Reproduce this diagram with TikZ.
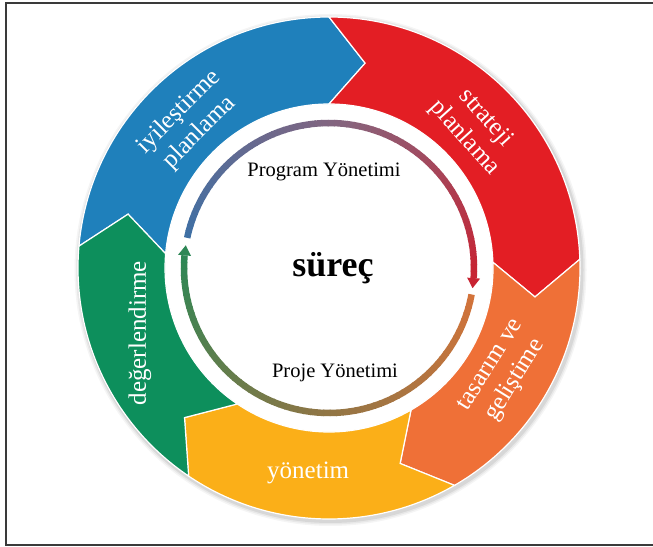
\documentclass[tikz,border=0pt]{standalone}
\usepackage{fontspec}
\setmainfont{Liberation Serif}

% segment colours
\definecolor{segblue}{RGB}{31,128,187}
\definecolor{segred}{RGB}{227,30,36}
\definecolor{segorange}{RGB}{239,112,55}
\definecolor{segyellow}{RGB}{251,175,24}
\definecolor{seggreen}{RGB}{13,143,92}
% inner cycle colours
\definecolor{topA}{RGB}{62,112,165}
\definecolor{topB}{RGB}{135,100,125}
\definecolor{topC}{RGB}{200,35,50}
\definecolor{botA}{RGB}{212,115,58}
\definecolor{botB}{RGB}{140,118,70}
\definecolor{botC}{RGB}{45,135,85}
\definecolor{framegray}{RGB}{58,58,58}

% ring geometry (pt = px)
\newcommand\Rout{251}
\newcommand\Rin{164}
\newcommand\Rmid{208}
\newcommand\tipd{10}
\newcommand\Rcyc{145}

% one chevron-shaped ring segment: start angle, end angle, colour
\newcommand\ringseg[3]{%
  \fill[#3, draw=white, line width=1.2]
    (#1:\Rout) arc[start angle=#1, end angle=#2, radius=\Rout]
    -- (#2-\tipd:\Rmid) -- (#2:\Rin)
    arc[start angle=#2, end angle=#1, radius=\Rin]
    -- (#1-\tipd:\Rmid) -- cycle;}

% arc whose colour blends from #3 to #4 in #5 steps
\newcommand\gradarc[5]{%
  \foreach \k in {1,...,#5}{%
    \pgfmathsetmacro\sa{#1+(#2-#1)*(\k-1)/#5}%
    \pgfmathsetmacro\ea{#1+(#2-#1)*\k/#5-0.4}%
    \pgfmathtruncatemacro\pc{100-100*(\k-0.5)/#5}%
    \draw[line width=6.5, draw=#3!\pc!#4]
      (\sa:\Rcyc) arc[start angle=\sa, end angle=\ea, radius=\Rcyc];
  }}

\tikzset{
  seglabel/.style={text=white, font=\fontsize{25}{29}\selectfont,
    align=center, inner sep=0pt},
  innerlabel/.style={anchor=base, font=\fontsize{20.5}{24}\selectfont,
    inner sep=0pt},
}

\begin{document}
\begin{tikzpicture}[x=1pt,y=1pt]
\useasboundingbox (0,0) rectangle (653,546);
\fill[white] (0,0) rectangle (653,546);

% frame
\draw[framegray, line width=2] (653,543) -- (6,543) -- (6,1) -- (653,1);

\begin{scope}[shift={(329,278)}]
  % soft shadow under the ring
  \begin{scope}[shift={(1.5,-2)}]
    \foreach \w/\o in {5/0.04,3.5/0.05,2/0.07}{
      \fill[black, opacity=\o, even odd rule]
        (0,0) circle[radius=\Rout+\w] (0,0) circle[radius=\Rin+6];
    }
  \end{scope}

  % ring segments, clockwise
  \ringseg{175}{90}{segblue}
  \ringseg{90}{2}{segred}
  \ringseg{2}{-60}{segorange}
  \ringseg{-60}{-124}{segyellow}
  \ringseg{-124}{-185}{seggreen}

  % inner cycle: programme arc over the top
  \gradarc{168}{83}{topA}{topB}{34}
  \gradarc{83}{-3.6}{topB}{topC}{34}
  \fill[topC] (-8:\Rcyc) -- (-4:\Rcyc-6.5) -- (-4:\Rcyc+6.5) -- cycle;

  % inner cycle: project arc under the bottom
  \gradarc{-10.5}{-97}{botA}{botB}{34}
  \gradarc{-97}{-184.6}{botB}{botC}{34}
  \fill[botC] (-189:\Rcyc) -- (-185:\Rcyc-6.5) -- (-185:\Rcyc+6.5) -- cycle;

  % segment labels
  \node[seglabel, rotate=45] (lblue) at (133.8:202) {iyileştirme\\planlama};
  \node[seglabel, rotate=-48] (lred) at (43.8:202) {strateji\\planlama};
  \node[seglabel, rotate=58] (lorange) at (-31:204) {tasarım ve\\geliştime};
  \node[seglabel, rotate=90] (lgreen) at (-161:200) {değerlendirme};
  \node[seglabel] (lyellow) at (-95.8:206) {yönetim};
\end{scope}

% centre texts
\node[anchor=base, inner sep=0pt, font=\bfseries\fontsize{36}{40}\selectfont]
  (core) at (333,269) {süreç};
\node[innerlabel] (prog) at (324,369) {Program Yönetimi};
\node[innerlabel] (proj) at (335,168) {Proje Yönetimi};
\end{tikzpicture}
\end{document}
